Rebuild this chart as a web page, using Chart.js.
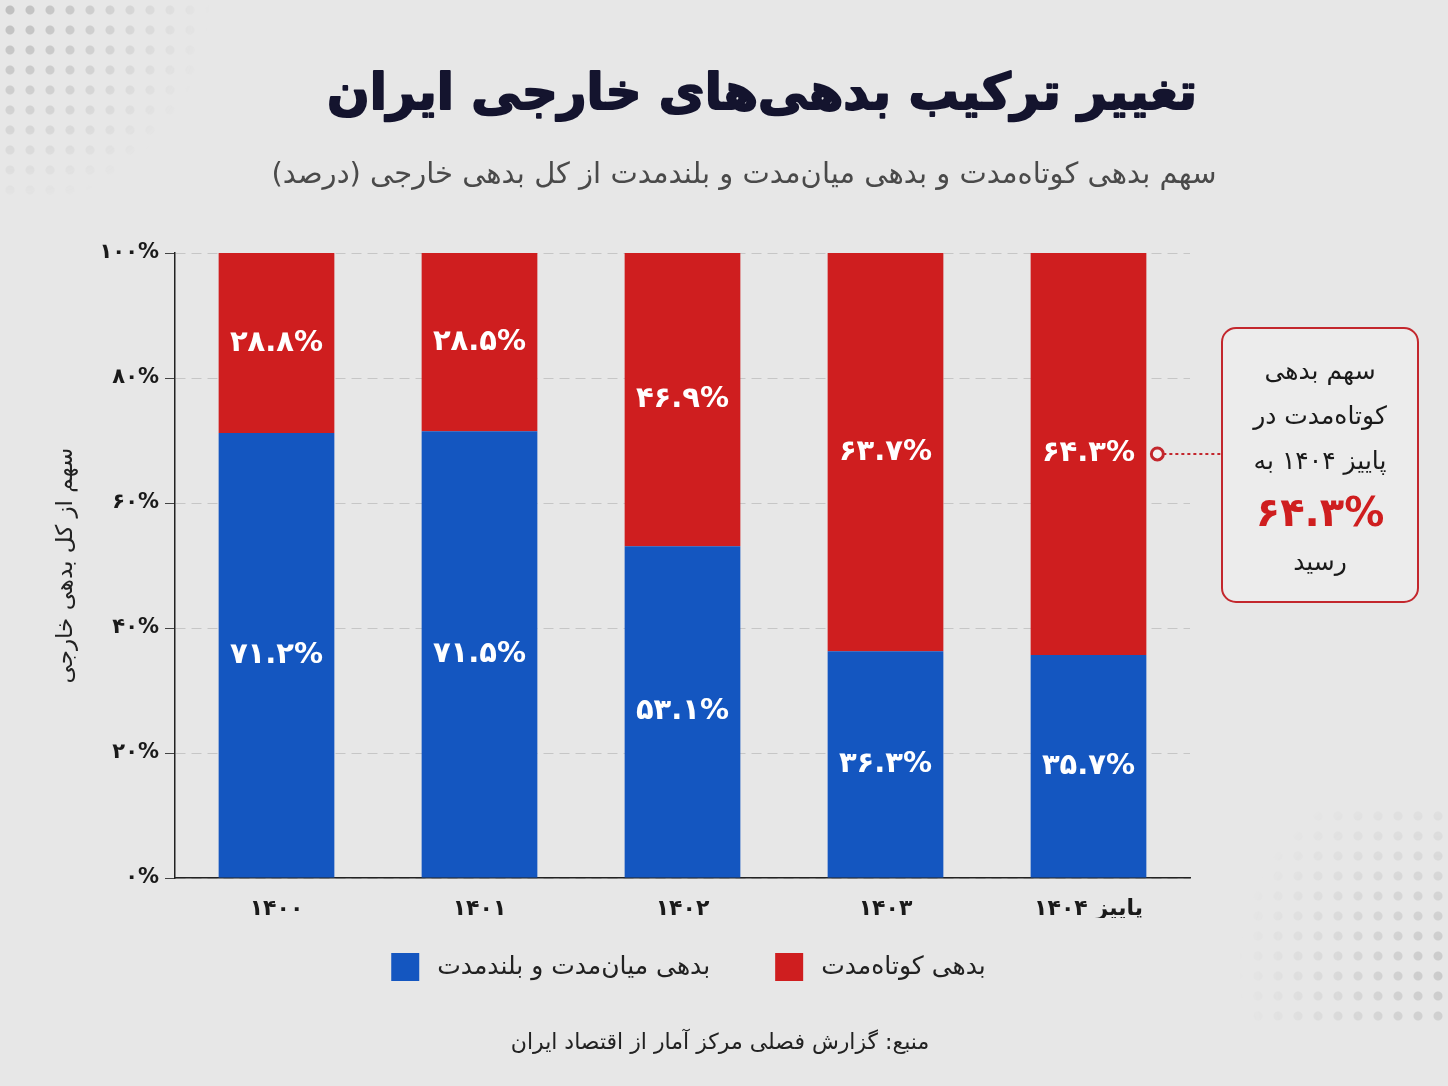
<!DOCTYPE html>
<html lang="fa">
<head>
<meta charset="utf-8">
<script src="https://cdn.jsdelivr.net/npm/chart.js@4.4.1/dist/chart.umd.min.js"></script>
<style>
  html, body { margin: 0; padding: 0; }
  body { width: 1448px; height: 1086px; overflow: hidden; background: #e7e7e7; }
  .wrap { position: relative; width: 1448px; height: 1086px; }
  .dots-tl, .dots-br { position: absolute;
    background-image: radial-gradient(circle, #bdbdbd 4px, transparent 5px);
    background-size: 20px 20px; }
  .dots-tl { left: 0; top: 0; width: 230px; height: 200px;
    -webkit-mask-image: radial-gradient(circle at 0 0, #000 0, rgba(0,0,0,0.6) 90px, transparent 210px); }
  .dots-br { right: 0; bottom: 60px; width: 240px; height: 220px;
    -webkit-mask-image: radial-gradient(circle at 100% 75%, rgba(0,0,0,0.7) 0, transparent 210px); }
  canvas { position: absolute; left: 0; top: 0; }
</style>
</head>
<body>
<div class="wrap">
<div class="dots-tl"></div>
<div class="dots-br"></div>
<canvas id="debtChart" width="1448" height="1086"></canvas>
</div>
<script>
// داده‌ها
const years = ["۱۴۰۰", "۱۴۰۱", "۱۴۰۲", "۱۴۰۳", "پاییز ۱۴۰۴"];
const longTerm = [71.2, 71.5, 53.1, 36.3, 35.7];
const shortTerm = [28.8, 28.5, 46.9, 63.7, 64.3];
const yTicks = [0, 20, 40, 60, 80, 100];

const titleText = "تغییر ترکیب بدهی‌های خارجی ایران";
const subtitleText = "سهم بدهی کوتاه‌مدت و بدهی میان‌مدت و بلندمدت از کل بدهی خارجی (درصد)";
const sourceText = "منبع: گزارش فصلی مرکز آمار از اقتصاد ایران";
const noteLines = ["سهم بدهی", "کوتاه‌مدت در", "پاییز ۱۴۰۴ به"];
const noteLast = "رسید";

const faDigits = "۰۱۲۳۴۵۶۷۸۹";
function fa(n) {
  return String(n).replace(/[0-9]/g, d => faDigits[d]);
}

const FONT = "'DejaVu Sans', sans-serif";
const RED = "#cf1e1f";
const BLUE = "#1456c0";

// عنوان، زیرعنوان و منبع
const textPlugin = {
  id: "texts",
  afterDraw(chart) {
    const c = chart.ctx;
    c.save();
    c.textAlign = "center";
    c.textBaseline = "middle";
    c.direction = "rtl";
    c.fillStyle = "#14142e";
    c.strokeStyle = "#14142e";
    c.lineWidth = 2;
    c.lineJoin = "round";
    c.font = "bold 50px " + FONT;
    c.strokeText(titleText, 762, 96);
    c.fillText(titleText, 762, 96);
    c.fillStyle = "#4a4a4a";
    c.font = "29px " + FONT;
    c.fillText(subtitleText, 744, 175);
    c.fillStyle = "#222";
    c.font = "22px " + FONT;
    c.fillText(sourceText, 720, 1043);
    c.restore();
  }
};

// راهنما: مربع رنگی و متن هر سری
const legendPlugin = {
  id: "customLegend",
  afterDraw(chart) {
    const c = chart.ctx;
    const y = 967, box = 28, gapText = 18, gapItem = 65;
    c.save();
    c.font = "25px " + FONT;
    c.textBaseline = "middle";
    c.textAlign = "left";
    const items = chart.data.datasets.map(ds => ({
      text: ds.label, color: ds.backgroundColor, w: c.measureText(ds.label).width
    }));
    const total = items.reduce((s, it) => s + box + gapText + it.w, 0) + gapItem * (items.length - 1);
    let x = (chart.chartArea.left + chart.chartArea.right) / 2 + 6 - total / 2;
    items.forEach(it => {
      c.fillStyle = it.color;
      c.fillRect(x, y - box / 2, box, box);
      c.fillStyle = "#222";
      c.fillText(it.text, x + box + gapText, y);
      x += box + gapText + it.w + gapItem;
    });
    c.restore();
  }
};

// برچسب درصد داخل ستون‌ها
const labelPlugin = {
  id: "barLabels",
  afterDatasetsDraw(chart) {
    const c = chart.ctx;
    c.save();
    c.fillStyle = "#ffffff";
    c.font = "bold 29px " + FONT;
    c.textAlign = "center";
    c.textBaseline = "middle";
    c.direction = "ltr";
    chart.data.datasets.forEach((ds, i) => {
      chart.getDatasetMeta(i).data.forEach((bar, j) => {
        const mid = (bar.y + bar.base) / 2;
        c.fillText(fa(ds.data[j].toFixed(1)) + "%", bar.x, mid);
      });
    });
    c.restore();
  }
};

// کادر توضیح سمت راست
const notePlugin = {
  id: "note",
  afterDraw(chart) {
    const c = chart.ctx;
    const last = chart.getDatasetMeta(1).data[4];
    const y = (last.y + last.base) / 2;
    const x0 = last.x + last.width / 2 + 11;
    const bx = 1222, by = 328, bw = 196, bh = 274;
    c.save();
    c.strokeStyle = "#c3272d";
    c.lineWidth = 2;
    c.fillStyle = "#ececec";
    c.beginPath();
    c.roundRect(bx, by, bw, bh, 14);
    c.fill();
    c.stroke();
    c.setLineDash([3, 3]);
    c.beginPath();
    c.moveTo(x0 + 6, y);
    c.lineTo(bx, y);
    c.stroke();
    c.setLineDash([]);
    c.lineWidth = 3;
    c.fillStyle = "#f3f3f3";
    c.beginPath();
    c.arc(x0, y, 6, 0, Math.PI * 2);
    c.fill();
    c.stroke();
    c.textAlign = "center";
    c.textBaseline = "middle";
    c.direction = "rtl";
    c.fillStyle = "#1a1a1a";
    c.font = "25px " + FONT;
    const cx = bx + bw / 2;
    noteLines.forEach((t, i) => c.fillText(t, cx, 372 + i * 45));
    c.fillText(noteLast, cx, 563);
    c.direction = "ltr";
    c.fillStyle = RED;
    c.font = "bold 40px " + FONT;
    c.fillText(fa(shortTerm[4].toFixed(1)) + "%", cx, 516);
    c.restore();
  }
};

const ctx = document.getElementById("debtChart");

new Chart(ctx, {
  type: "bar",
  data: {
    labels: years,
    datasets: [
      {
        label: "بدهی میان‌مدت و بلندمدت",
        data: longTerm,
        backgroundColor: BLUE,
        borderWidth: 0,
      },
      {
        label: "بدهی کوتاه‌مدت",
        data: shortTerm,
        backgroundColor: RED,
        borderWidth: 0,
      },
    ],
  },
  options: {
    responsive: false,
    animation: false,
    layout: {
      padding: { top: 253, left: 52, right: 258, bottom: 168 },
    },
    datasets: {
      bar: { categoryPercentage: 1, barPercentage: 0.57 },
    },
    scales: {
      x: {
        stacked: true,
        grid: { display: false },
        border: { color: "#222", width: 1.5 },
        afterFit(axis) {
          axis.height = 40;
        },
        ticks: {
          color: "#1a1a1a",
          font: { family: FONT, size: 22, weight: "bold" },
          padding: 10,
        },
      },
      y: {
        stacked: true,
        min: 0,
        max: 100,
        afterBuildTicks(axis) {
          axis.ticks = yTicks.map(v => ({ value: v }));
        },
        afterFit(axis) {
          axis.width = 123;
        },
        grid: {
          color: "#c6c6c6",
          tickColor: "#444",
          tickLength: 10,
          tickBorderDash: [],
          lineWidth: 1,
        },
        border: { color: "#222", width: 1.5, dash: [10, 6] },
        ticks: {
          color: "#1a1a1a",
          font: { family: FONT, size: 21, weight: "bold" },
          padding: 6,
          callback: v => fa(v) + "%",
        },
        title: {
          display: true,
          text: "سهم از کل بدهی خارجی",
          color: "#222",
          font: { family: FONT, size: 23 },
          padding: { top: 0, bottom: 0 },
        },
      },
    },
    plugins: {
      legend: { display: false },
      tooltip: { enabled: false },
    },
  },
  plugins: [textPlugin, legendPlugin, labelPlugin, notePlugin],
});
</script>
</body>
</html>
